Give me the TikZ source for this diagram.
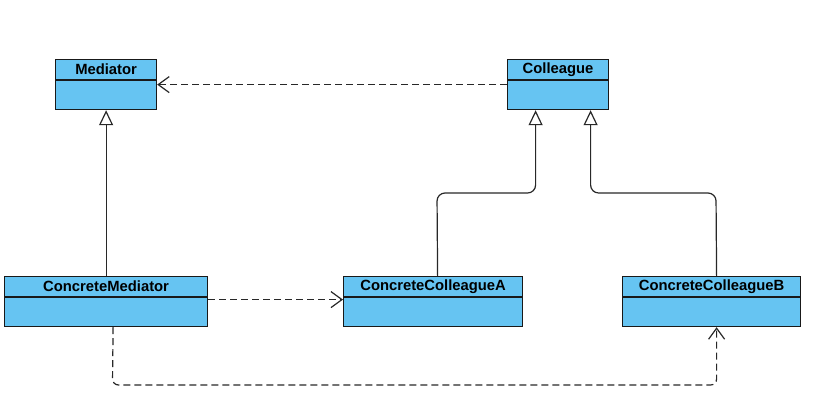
\documentclass[tikz,border=0pt]{standalone}
\usepackage{fontspec}
\setmainfont{Liberation Sans}
\usetikzlibrary{arrows.meta}
\definecolor{classfill}{RGB}{102,196,242}
\definecolor{classedge}{RGB}{25,25,25}
\definecolor{wire}{RGB}{40,40,40}
\tikzset{
  classbox/.style={draw=classedge, fill=classfill, line width=1.2pt, rectangle,
    minimum height=50pt, inner sep=0pt},
  classline/.style={draw=classedge, line width=1.2pt},
  classtitle/.style={font=\fontsize{14.8}{15}\selectfont\bfseries, text=black, inner sep=0pt},
  wireline/.style={draw=wire, line width=1.2pt},
  inherit/.style={wireline, -{Triangle[open, length=15pt, width=14pt, fill=white]}},
  depend/.style={wireline, dash pattern=on 7pt off 4pt, -{Straight Barb[length=11pt, width=16pt]}},
}
% name, left x, top y, width, title
\newcommand\umlclass[5]{%
  \node[classbox, minimum width=#4, anchor=north west] (#1) at (#2,#3) {};
  \draw[classline] ([yshift=-21pt]#1.north west) -- ([yshift=-21pt]#1.north east);
  \node[classtitle] (#1-title) at ([yshift=-10.5pt]#1.north) {#5};
}
\begin{document}
\begin{tikzpicture}[x=1pt, y=-1pt]
  \useasboundingbox (0,0) rectangle (828,413);

  \umlclass{med}{55}{59}{101pt}{Mediator}
  \umlclass{col}{507}{59}{101pt}{Colleague}
  \umlclass{cm}{4}{276}{203pt}{ConcreteMediator}
  \umlclass{cca}{343}{276}{179pt}{ConcreteColleagueA}
  \umlclass{ccb}{622}{276}{178pt}{ConcreteColleagueB}

  % Colleague depends on Mediator
  \draw[depend] (col.west) -- (med.east);

  % generalisations
  \draw[inherit] (cm.north) -- (med.south);
  \coordinate (bendA) at (437,193);
  \coordinate (bendB) at (716,193);
  \draw[inherit, rounded corners=8pt]
    ([xshift=4.5pt]cca.north) -- (bendA) -- ([xshift=-22.5pt]col.south |- bendA)
    -- ([xshift=-22.5pt]col.south);
  \draw[inherit, rounded corners=8pt]
    ([xshift=5pt]ccb.north) -- (bendB) -- ([xshift=32.5pt]col.south |- bendB)
    -- ([xshift=32.5pt]col.south);

  % ConcreteMediator depends on the concrete colleagues
  \draw[depend] ([yshift=2pt]cm.east) -- ([yshift=2pt]cca.west);
  \coordinate (lowL) at (112.5,385);
  \draw[depend, rounded corners=6pt]
    ([xshift=7pt]cm.south) -- (lowL) -- ([xshift=5pt]ccb.south |- lowL)
    -- ([xshift=5pt]ccb.south);
\end{tikzpicture}
\end{document}
